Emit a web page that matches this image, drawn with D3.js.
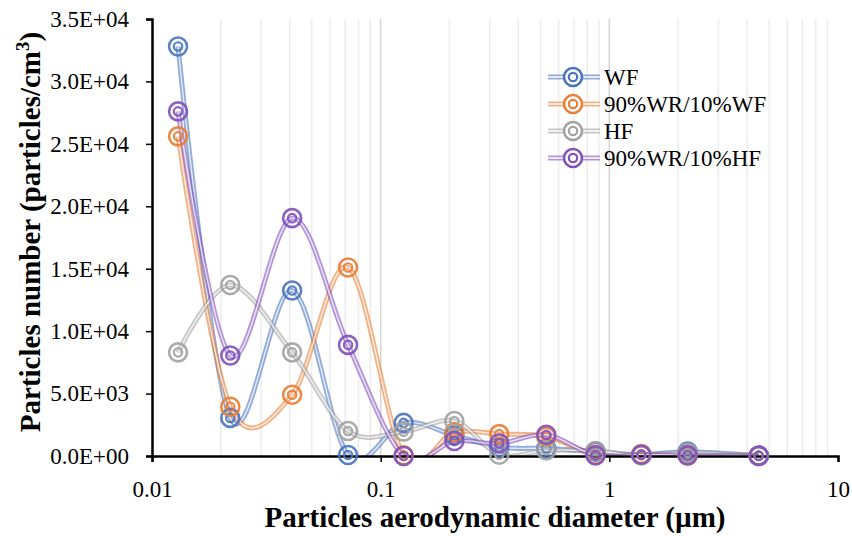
<!DOCTYPE html>
<html>
<head>
<meta charset="utf-8">
<script src="https://cdn.jsdelivr.net/npm/d3@7/dist/d3.min.js"></script>
<style>
  body { margin: 0; background: #fff; }
  text { font-family: "Liberation Serif", "Times New Roman", serif; fill: #000; }
</style>
</head>
<body>
<script>
// diameters (µm) of the impactor stages
const diameters = [0.013, 0.022, 0.041, 0.072, 0.126, 0.21, 0.33, 0.53, 0.87, 1.38, 2.2, 4.5];

const seriesNames = ["WF", "90%WR/10%WF", "HF", "90%WR/10%HF"];
const seriesColors = ["#4a74c0", "#e97e35", "#a2a2a2", "#8150bd"];

const wf     = [32800, 3050, 13250, 80, 2650, 1650, 700, 600, 350, 100, 350, 30];
const wr_wf  = [25600, 3950, 4900, 15100, 60, 1900, 1750, 1550, 100, 150, 50, 20];
const hf     = [8300, 13700, 8300, 2000, 1950, 2800, 100, 450, 400, 50, 250, 10];
const wr_hf  = [27600, 8050, 19050, 8900, 0, 1200, 1000, 1700, 50, 100, 50, 10];

const yTicks = [0, 5000, 10000, 15000, 20000, 25000, 30000, 35000];
const xTicks = [0.01, 0.1, 1, 10];

const allSeries = [wf, wr_wf, hf, wr_hf];

const W = 852, H = 536;
const margin = {top: 19, right: 14, bottom: 80, left: 152};
const width = W - margin.left - margin.right;
const height = H - margin.top - margin.bottom;

const svg = d3.select("body").append("svg")
    .attr("width", W)
    .attr("height", H);

const x = d3.scaleLog().domain([0.01, 10]).range([0, width]);
const y = d3.scaleLinear().domain([0, 35000]).range([height, 0]);

const g = svg.append("g").attr("transform", `translate(${margin.left},${margin.top})`);

// vertical gridlines (minor + major)
const minor = [];
for (let dec = 0.01; dec < 10; dec *= 10) {
    for (let k = 1; k < 10; k++) minor.push(+(dec * k).toPrecision(3));
}
g.selectAll(".grid")
    .data(minor.filter(v => v > 0.01))
    .enter().append("line")
    .attr("x1", d => x(d)).attr("x2", d => x(d))
    .attr("y1", 0).attr("y2", height)
    .attr("stroke", d => xTicks.includes(d) ? "#d4d4d4" : "#ececec")
    .attr("stroke-width", 1.5);

svg.append("clipPath").attr("id", "plotclip")
  .append("rect").attr("x", 0).attr("y", 0).attr("width", width).attr("height", height);

const line = d3.line()
    .x((d, i) => x(diameters[i]))
    .y(d => y(d))
    .curve(d3.curveCardinal.tension(0));

const lines = g.append("g").attr("clip-path", "url(#plotclip)");
allSeries.forEach((vals, s) => {
    lines.append("path")
        .attr("d", line(vals))
        .attr("fill", "none")
        .attr("stroke", seriesColors[s])
        .attr("stroke-opacity", 0.6)
        .attr("stroke-width", 5);
    lines.append("path")
        .attr("d", line(vals))
        .attr("fill", "none")
        .attr("stroke", "#fff")
        .attr("stroke-opacity", 0.75)
        .attr("stroke-width", 1.4);
});

// axes
const yAxis = d3.axisLeft(y).tickValues(yTicks).tickSize(6).tickPadding(17)
    .tickFormat(d => {
        if (d === 0) return "0.0E+00";
        const e = Math.floor(Math.log10(d));
        return (d / Math.pow(10, e)).toFixed(1) + "E+" + String(e).padStart(2, "0");
    });
const gy = g.append("g").call(yAxis);
gy.select(".domain").attr("stroke", "#000").attr("stroke-width", 2.5);
gy.selectAll(".tick line").attr("stroke", "#000").attr("stroke-width", 1.5);
gy.selectAll(".tick text").attr("font-size", 23);

const xAxis = d3.axisBottom(x).tickValues(xTicks).tickSize(6).tickPadding(19)
    .tickFormat(d => String(d));
const gx = g.append("g").attr("transform", `translate(0,${height})`).call(xAxis);
gx.select(".domain").attr("stroke", "#000").attr("stroke-width", 2.5);
gx.selectAll(".tick line").attr("stroke", "#000").attr("stroke-width", 1.5);
gx.selectAll(".tick text").attr("font-size", 23);

// markers
allSeries.forEach((vals, s) => {
    const mk = g.append("g").selectAll("g").data(vals).enter().append("g")
        .attr("transform", (d, i) => `translate(${x(diameters[i])},${y(d)})`)
        .attr("opacity", 0.9);
    mk.append("circle").attr("r", 9).attr("fill", "none")
        .attr("stroke", seriesColors[s]).attr("stroke-width", 2.6);
    mk.append("circle").attr("r", 4.2).attr("fill", "none")
        .attr("stroke", seriesColors[s]).attr("stroke-width", 2.2);
});

// legend
const legend = svg.append("g").attr("transform", "translate(548,77)");
seriesNames.forEach((name, s) => {
    const row = legend.append("g").attr("transform", `translate(0,${s * 27})`);
    row.append("line").attr("x1", 0).attr("x2", 52).attr("y1", 0).attr("y2", 0)
        .attr("stroke", seriesColors[s]).attr("stroke-opacity", 0.6).attr("stroke-width", 5);
    row.append("line").attr("x1", 0).attr("x2", 52).attr("y1", 0).attr("y2", 0)
        .attr("stroke", "#fff").attr("stroke-width", 1.4);
    row.append("circle").attr("cx", 25).attr("r", 9).attr("fill", "#fff")
        .attr("stroke", seriesColors[s]).attr("stroke-width", 2.6);
    row.append("circle").attr("cx", 25).attr("r", 4.2).attr("fill", "none")
        .attr("stroke", seriesColors[s]).attr("stroke-width", 2.2);
    row.append("text").attr("x", 56).attr("y", 8)
        .attr("font-size", 23).text(name);
});

// axis titles
svg.append("text")
    .attr("x", 495).attr("y", 527)
    .attr("text-anchor", "middle")
    .attr("font-size", 29).attr("font-weight", "bold")
    .text("Particles aerodynamic diameter (µm)");

svg.append("text")
    .attr("transform", `translate(40,232) rotate(-90)`)
    .attr("text-anchor", "middle")
    .attr("font-size", 29).attr("font-weight", "bold")
    .html("Particles number (particles/cm<tspan dy='-11' font-size='19'>3</tspan><tspan dy='11'>)</tspan>");
</script>
</body>
</html>
